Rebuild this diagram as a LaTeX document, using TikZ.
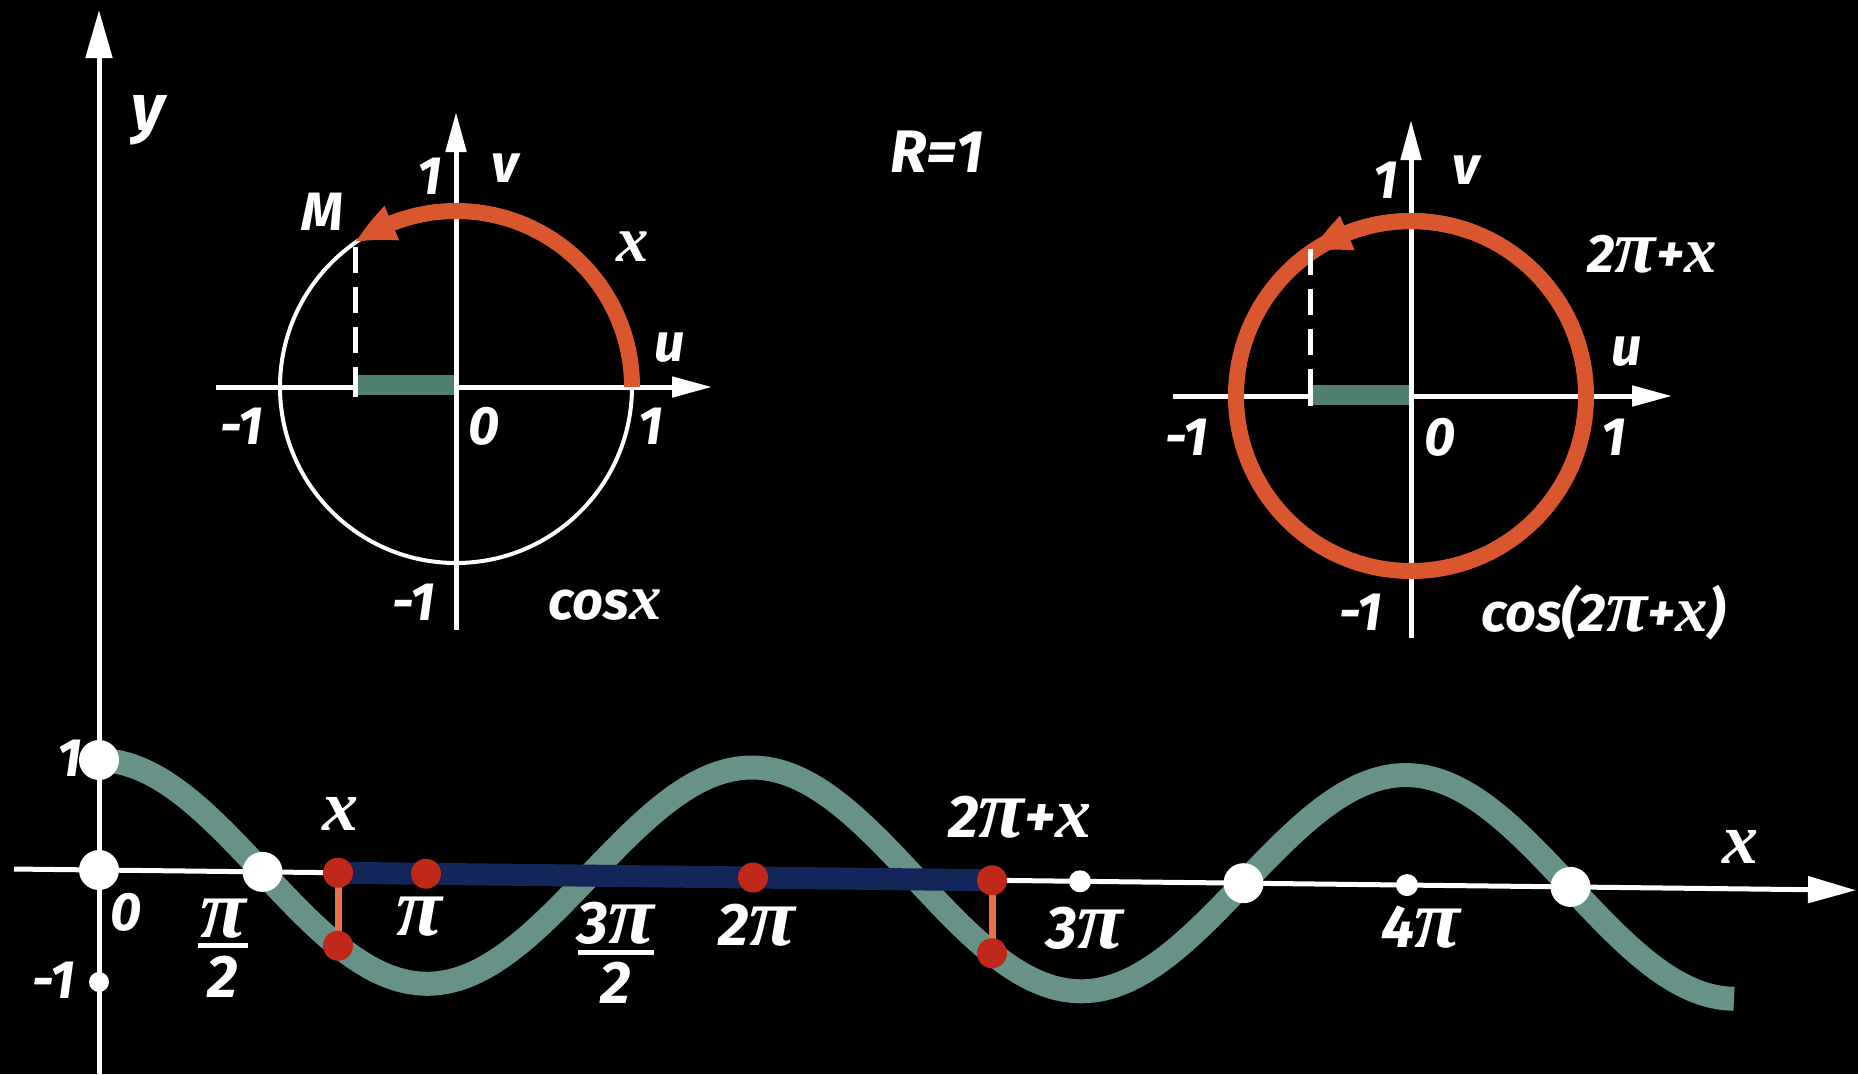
\documentclass[tikz,border=0pt]{standalone}
\usepackage{fontspec}
\setmainfont{Fira Sans}
\newfontfamily\serf{Liberation Serif}
\usetikzlibrary{arrows.meta,bending,calc}
\definecolor{arcred}{RGB}{218,86,46}
\definecolor{tealc}{RGB}{102,146,135}
\definecolor{tealbar}{RGB}{80,128,113}
\definecolor{navyband}{RGB}{18,38,90}
\definecolor{dotred}{RGB}{192,40,26}
\definecolor{linkor}{RGB}{232,112,74}
\newcommand{\mpi}{{\serf\itshape\scalebox{1.4}{π}}}
\newcommand{\mx}{{\serf\itshape\scalebox{1.2}{x}}}
\begin{document}
\begin{tikzpicture}[x=1pt,y=-1pt,
  lbl/.style={text=white,inner sep=0pt,font=\fontsize{54}{58}\selectfont\bfseries\itshape},
  blbl/.style={text=white,inner sep=0pt,font=\fontsize{60}{64}\selectfont\bfseries\itshape},
  fracl/.style={blbl,align=center,font=\fontsize{60}{54}\selectfont\bfseries\itshape},
  axisline/.style={draw=white,line width=5pt,-{Triangle[length=40pt,width=20pt]}},
  bigaxis/.style={draw=white,line width=5pt,-{Triangle[length=48pt,width=26pt]}},
  ring/.style={draw=white,line width=4pt},
  redarc/.style={draw=arcred,line width=16pt},
  arrowarc/.style={redarc,-{Triangle[length=42pt,width=34pt,bend]}},
  proj/.style={draw=white,line width=5pt,dash pattern=on 26pt off 14pt},
  cosbar/.style={draw=tealbar,line width=20pt},
  bigdot/.style={circle,fill=white,minimum size=40pt,inner sep=0pt},
  smalldot/.style={circle,fill=white,minimum size=22pt,inner sep=0pt},
  reddot/.style={circle,fill=dotred,minimum size=30pt,inner sep=0pt},
  link/.style={draw=linkor,line width=7pt},
  band/.style={draw=navyband,line width=22pt},
  wave/.style={draw=tealc,line width=24pt}
]
\useasboundingbox (0,0) rectangle (1858,1074);
\fill[black] (0,0) rectangle (1858,1074);

% ---------- left unit circle ----------
\coordinate (C1) at (456,387);
\coordinate (C1w) at (216,387);
\coordinate (C1e) at (712,387);
\coordinate (C1s) at (456,630);
\coordinate (C1n) at (456,112);
\coordinate (M1) at ($(C1)+(-125:176)$);
\coordinate (M1f) at (M1 |- C1);
\draw[ring] (C1) circle[radius=176];
\draw[axisline] (C1w) -- (C1e);
\draw[cosbar] ($(M1f)+(0,-2)$) -- ($(C1)+(0,-2)$);
\draw[axisline] (C1s) -- (C1n);
\draw[arrowarc] ($(C1)+(176,0)$) arc[start angle=0,end angle=-125,radius=176];
\draw[proj] ($(M1)+(0,4)$) -- (M1f);
\draw[white,line width=5pt] ($(M1f)+(0,-14)$) -- ($(M1f)+(0,10)$);
\node[lbl] (lM) at (322,212) {M};
\node[lbl] (l1a) at (430,176) {1};
\node[lbl] (lva) at (505,168) {v};
\node[lbl] (lxa) at (633,247) {\mx};
\node[lbl] (lua) at (670,348) {u};
\node[lbl] (lm1a) at (242,426) {-1};
\node[lbl] (l0a) at (484,426) {0};
\node[lbl] (l1b) at (651,426) {1};
\node[lbl] (lm1b) at (414,602) {-1};
\node[lbl] (lcos) at (605,605) {cos\mx};

\node[blbl] (R) at (937,152) {R=1};

% ---------- right unit circle ----------
\coordinate (C2) at (1411,396);
\coordinate (C2w) at (1173,396);
\coordinate (C2e) at (1672,396);
\coordinate (C2s) at (1411,638);
\coordinate (C2n) at (1411,120);
\coordinate (M2) at ($(C2)+(-125:175)$);
\coordinate (M2f) at (M2 |- C2);
\draw[axisline] (C2w) -- (C2e);
\draw[cosbar] ($(M2f)+(0,-1)$) -- ($(C2)+(0,-1)$);
\draw[axisline] (C2s) -- (C2n);
\draw[redarc] (C2) circle[radius=175];
\draw[arrowarc] ($(C2)+(-70:175)$) arc[start angle=-70,end angle=-125,radius=175];
\draw[proj] ($(M2)+(0,-4)$) -- (M2f);
\draw[white,line width=5pt] ($(M2f)+(0,-14)$) -- ($(M2f)+(0,10)$);
\node[lbl] (r1a) at (1386,180) {1};
\node[lbl] (rva) at (1466,170) {v};
\node[lbl] (r2px) at (1652,254) {2\mpi+\mx};
\node[lbl] (rua) at (1627,352) {u};
\node[lbl] (rm1a) at (1187,437) {-1};
\node[lbl] (r0a) at (1440,437) {0};
\node[lbl] (r1b) at (1614,437) {1};
\node[lbl] (rm1b) at (1361,612) {-1};
\node[lbl] (rcos) at (1603,613) {cos(2\mpi+\mx)};

% ---------- graph of cos x ----------
\draw[bigaxis] (99,1074) -- (99,10);
\node[blbl,font=\fontsize{66}{70}\selectfont\bfseries\itshape] (ly) at (148,120) {y};
\begin{scope}[shift={(99,870)},yslant=-0.0115]
  \coordinate (xa0) at (-85,0);
  \coordinate (xa1) at (1757,0);
  \draw[bigaxis] (xa0) -- (xa1);
  \draw[wave] plot[domain=0:1635,samples=160,smooth] (\x,{-110*cos(\x/327*180)});
  \coordinate (b0) at (239,0);
  \coordinate (b1) at (893,0);
  \draw[band] (b0) -- (b1);
  \node[bigdot] (p1) at (0,-110) {};
  \node[bigdot] (p0) at (0,0) {};
  \node[smalldot,minimum size=20pt] (pm1) at (0,112) {};
  \node[bigdot] (ph) at (163.5,0) {};
  \node[bigdot] (p72) at (1144.5,0) {};
  \node[bigdot] (p92) at (1471.5,0) {};
  \node[smalldot] (p3) at (981,0) {};
  \node[smalldot] (p4) at (1308,0) {};
  \coordinate (xq) at (239,{-110*cos(239/327*180)});
  \coordinate (xq2) at (893,{-110*cos(893/327*180)});
  \draw[link] (b0) -- (xq);
  \draw[link] (b1) -- (xq2);
  \node[reddot] (rx) at (b0) {};
  \node[reddot] (rxc) at (xq) {};
  \node[reddot] (rpi) at (327,0) {};
  \node[reddot] (r2pi) at (654,0) {};
  \node[reddot] (rx2) at (b1) {};
  \node[reddot] (rx2c) at (xq2) {};
\end{scope}
\node[lbl] (g1) at (70,758) {1};
\node[lbl] (g0) at (126,912) {0};
\node[lbl] (gm1) at (54,980) {-1};
\node[fracl] (gh) at (223,948) {\mpi\\[-43pt]\rule{50pt}{5pt}\\[-5pt]2};
\node[blbl] (gx) at (340,814) {\mx};
\node[blbl] (gpi) at (419,917) {\mpi};
\node[fracl] (g3h) at (616,953) {3\mpi\\[-43pt]\rule{76pt}{5pt}\\[-5pt]2};
\node[blbl] (g2pi) at (757,925) {2\mpi};
\node[blbl] (g2px) at (1020,817) {2\mpi+\mx};
\node[blbl] (g3pi) at (1085,928) {3\mpi};
\node[blbl] (g4pi) at (1421,927) {4\mpi};
\node[blbl] (gxl) at (1740,847) {\mx};
\end{tikzpicture}
\end{document}
